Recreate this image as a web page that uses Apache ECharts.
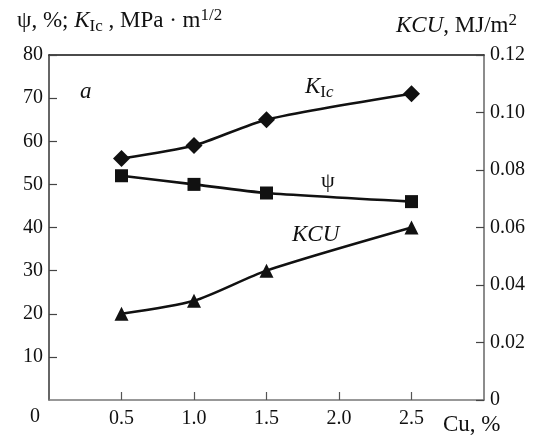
<!DOCTYPE html>
<html>
<head>
<meta charset="utf-8">
<script src="https://cdn.jsdelivr.net/npm/echarts@6/dist/echarts.min.js"></script>
<style>
    html,body{margin:0;padding:0;background:#fff;}
    #chart{width:537px;height:438px;}
</style>
</head>
<body>
<div id="chart"></div>
<script>
    // Cu content, %
    var cuX = [0.5, 1.0, 1.5, 2.5];
    // K_Ic, MPa·m^1/2 (left axis)
    var kic = [56, 59, 65, 71];
    // psi, % (left axis)
    var psi = [52, 50, 48, 46];
    // KCU, MJ/m^2 (right axis)
    var kcu = [0.030, 0.0345, 0.045, 0.060];
    var xTicks = [0.5, 1.0, 1.5, 2.0, 2.5];

    function pairs(ys){
        var out = [];
        for (var i = 0; i < cuX.length; i++) out.push([cuX[i], ys[i]]);
        return out;
    }

    var serif = 'Liberation Serif';
    var lineStyle = {color: '#111', width: 2.6};

    var chart = echarts.init(document.getElementById('chart'));
    var option = {
        animation: false,
        backgroundColor: '#fff',
        textStyle: {fontFamily: serif},
        grid: {left: 49, right: 53, top: 55, bottom: 38, containLabel: false},
        xAxis: [{
            type: 'value',
            min: 0,
            max: 3,
            interval: 0.5,
            splitLine: {show: false},
            axisLine: {onZero: false, lineStyle: {color: '#777', width: 1.5}},
            axisTick: {show: true, inside: true, length: 8, customValues: xTicks, lineStyle: {color: '#555', width: 1.2}},
            axisLabel: {
                customValues: xTicks,
                margin: 9,
                color: '#111',
                fontSize: 20,
                fontFamily: serif,
                formatter: function (v) { return v.toFixed(1); }
            }
        }, {
            type: 'value',
            position: 'top',
            min: 0,
            max: 3,
            axisLine: {show: true, onZero: false, lineStyle: {color: '#111', width: 1.5}},
            axisTick: {show: false},
            axisLabel: {show: false},
            splitLine: {show: false}
        }],
        yAxis: [{
            type: 'value',
            min: 0,
            max: 80,
            interval: 10,
            splitLine: {show: false},
            axisLine: {show: true, onZero: false, lineStyle: {color: '#333', width: 1.5}},
            axisTick: {show: true, inside: true, length: 8, lineStyle: {color: '#444', width: 1.2}},
            axisLabel: {showMinLabel: false, margin: 6, color: '#111', fontSize: 20, fontFamily: serif}
        }, {
            type: 'value',
            position: 'right',
            min: 0,
            max: 0.12,
            interval: 0.02,
            splitLine: {show: false},
            axisLine: {show: true, onZero: false, lineStyle: {color: '#666', width: 1.5}},
            axisTick: {show: true, inside: true, length: 8, lineStyle: {color: '#444', width: 1.2}},
            axisLabel: {
                margin: 6,
                color: '#111',
                fontSize: 20,
                fontFamily: serif,
                formatter: function (v) { return v === 0 ? '0' : v.toFixed(2); }
            }
        }],
        series: [{
            name: 'KIc',
            type: 'line',
            data: pairs(kic),
            smooth: 0.25,
            symbol: 'diamond',
            symbolSize: 17,
            lineStyle: lineStyle,
            itemStyle: {color: '#111'}
        }, {
            name: 'psi',
            type: 'line',
            data: pairs(psi),
            smooth: 0.2,
            symbol: 'rect',
            symbolSize: 13,
            lineStyle: lineStyle,
            itemStyle: {color: '#111'}
        }, {
            name: 'KCU',
            type: 'line',
            yAxisIndex: 1,
            data: pairs(kcu),
            smooth: 0.25,
            symbol: 'triangle',
            symbolSize: 14,
            lineStyle: lineStyle,
            itemStyle: {color: '#111'}
        }],
        graphic: [{
            type: 'text', left: 17, top: 7,
            style: {
                text: 'ψ, %; {i|K}{sub|Ic} , MPa · m{sup|1/2}',
                fontFamily: serif, fontSize: 23, fill: '#111', lineHeight: 28,
                rich: {
                    i: {fontStyle: 'italic', fontSize: 23, fontFamily: serif, lineHeight: 28},
                    sub: {fontSize: 17, fontFamily: serif, lineHeight: 16, verticalAlign: 'bottom'},
                    sup: {fontSize: 17, fontFamily: serif, lineHeight: 16, verticalAlign: 'top'}
                }
            }
        }, {
            type: 'text', right: 20, top: 12,
            style: {
                text: '{i|KCU}, MJ/m{sup|2}',
                fontFamily: serif, fontSize: 23, fill: '#111', lineHeight: 28,
                rich: {
                    i: {fontStyle: 'italic', fontSize: 23, fontFamily: serif, lineHeight: 28},
                    sup: {fontSize: 17, fontFamily: serif, lineHeight: 16, verticalAlign: 'top'}
                }
            }
        }, {
            type: 'text', left: 80, top: 80,
            style: {text: 'a', fontFamily: serif, fontStyle: 'italic', fontSize: 23, fill: '#111'}
        }, {
            type: 'text', left: 305, top: 73,
            style: {
                text: '{i|K}{sub|I}{si|c}',
                fontFamily: serif, fontSize: 23, fill: '#111', lineHeight: 28,
                rich: {
                    i: {fontStyle: 'italic', fontSize: 23, fontFamily: serif, lineHeight: 28},
                    sub: {fontSize: 17, fontFamily: serif, lineHeight: 16, verticalAlign: 'bottom'},
                    si: {fontSize: 17, fontStyle: 'italic', fontFamily: serif, lineHeight: 16, verticalAlign: 'bottom'}
                }
            }
        }, {
            type: 'text', left: 321, top: 170,
            style: {text: 'ψ', fontFamily: serif, fontSize: 22, fill: '#111'}
        }, {
            type: 'text', left: 292, top: 223,
            style: {text: 'KCU', fontFamily: serif, fontStyle: 'italic', fontSize: 23, fill: '#111'}
        }, {
            type: 'text', left: 30, top: 407,
            style: {text: '0', fontFamily: serif, fontSize: 20, fill: '#111'}
        }, {
            type: 'text', left: 443, top: 413,
            style: {text: 'Cu, %', fontFamily: serif, fontSize: 23, fill: '#111'}
        }]
    };
    chart.setOption(option);
</script>
</body>
</html>
